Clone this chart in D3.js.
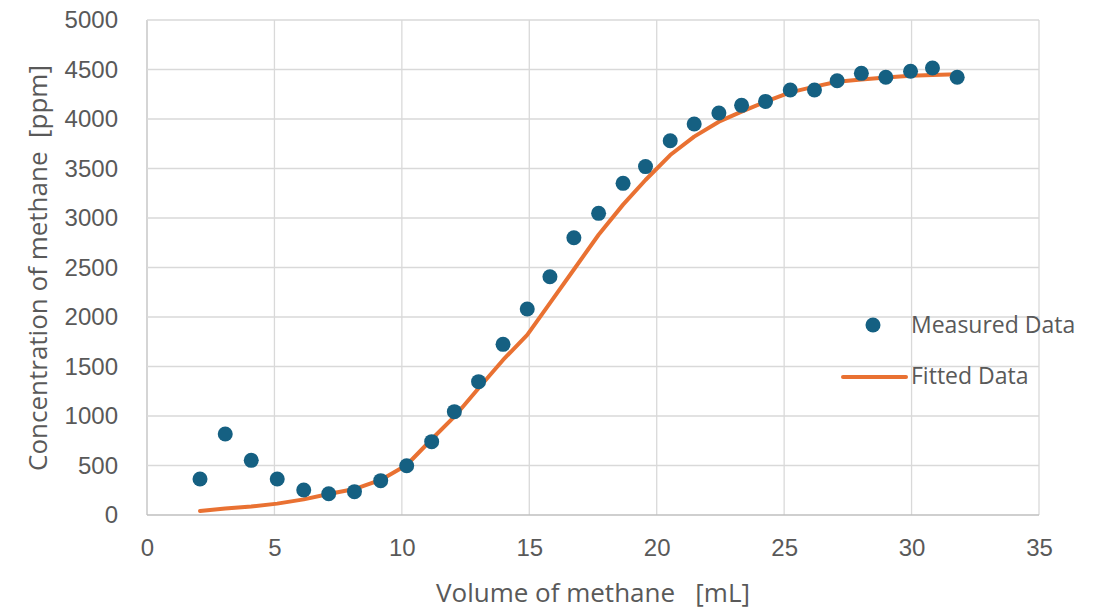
<!DOCTYPE html>
<html>
<head>
<meta charset="utf-8">
<script src="https://cdn.jsdelivr.net/npm/d3@7"></script>
<style>
  body { margin: 0; background: #fff; }
  text { fill: #595959; }
</style>
</head>
<body>
<div id="chart"></div>
<script>
// measured points
const volume = [2.08, 3.07, 4.09, 5.11, 6.15, 7.13, 8.14, 9.17, 10.19, 11.17, 12.06, 13.01, 13.97, 14.92, 15.81, 16.75,
  17.72, 18.68, 19.56, 20.53, 21.47, 22.44, 23.33, 24.27, 25.24, 26.19, 27.08, 28.03, 28.99, 29.96, 30.82, 31.79];
const measured = [364, 818, 552, 364, 253, 215, 236, 347, 498, 741, 1044, 1347, 1724, 2081, 2407, 2801,
  3047, 3350, 3519, 3781, 3949, 4061, 4138, 4178, 4293, 4293, 4387, 4461, 4421, 4482, 4515, 4421];
const fitted = [40, 65, 85, 115, 158, 212, 262, 354, 505, 765, 993, 1280, 1566, 1820, 2140, 2480,
  2831, 3135, 3384, 3636, 3822, 3973, 4074, 4175, 4269, 4327, 4377, 4400, 4418, 4438, 4444, 4451];

const xTicks = d3.range(0, 36, 5);
const yTicks = d3.range(0, 5001, 500);

const width = 1104, height = 611;
const margin = { left: 147, right: 65, top: 20, bottom: 96 };

const svg = d3.select("#chart").append("svg")
    .attr("width", width)
    .attr("height", height);

const x = d3.scaleLinear().domain([0, 35]).range([margin.left, width - margin.right]);
const y = d3.scaleLinear().domain([0, 5000]).range([height - margin.bottom, margin.top]);

// gridlines
svg.append("g")
    .selectAll("line")
    .data(xTicks)
    .join("line")
    .attr("x1", d => x(d)).attr("x2", d => x(d))
    .attr("y1", y(0)).attr("y2", y(5000))
    .attr("stroke", d => d === 0 ? "#bfbfbf" : "#d9d9d9")
    .attr("stroke-width", 1.3);

svg.append("g")
    .selectAll("line")
    .data(yTicks)
    .join("line")
    .attr("x1", x(0)).attr("x2", x(35))
    .attr("y1", d => y(d)).attr("y2", d => y(d))
    .attr("stroke", d => d === 0 ? "#bfbfbf" : "#d9d9d9")
    .attr("stroke-width", 1.3);

// tick labels
const tickFont = "'Liberation Sans', Arial, sans-serif";

const xAxis = svg.append("g")
    .attr("transform", `translate(0,${y(0)})`)
    .call(d3.axisBottom(x).tickValues(xTicks).tickFormat(d3.format("d")).tickSize(0).tickPadding(24));
xAxis.select(".domain").remove();
xAxis.selectAll("text")
    .style("font-family", tickFont)
    .style("font-size", "24px")
    .attr("fill", "#595959");

const yAxis = svg.append("g")
    .attr("transform", `translate(${x(0)},0)`)
    .call(d3.axisLeft(y).tickValues(yTicks).tickFormat(d3.format("d")).tickSize(0).tickPadding(29));
yAxis.select(".domain").remove();
yAxis.selectAll("text")
    .style("font-family", tickFont)
    .style("font-size", "24px")
    .attr("fill", "#595959");

// axis titles
svg.append("text")
    .attr("x", 593)
    .attr("y", 602)
    .attr("text-anchor", "middle")
    .style("font-family", "'Open Sans', sans-serif")
    .style("font-size", "26px")
    .style("white-space", "pre")
    .text("Volume of methane   [mL]");

svg.append("text")
    .attr("transform", "translate(47,268) rotate(-90)")
    .attr("text-anchor", "middle")
    .style("font-family", "'Open Sans', sans-serif")
    .style("font-size", "26px")
    .style("white-space", "pre")
    .text("Concentration of methane  [ppm]");

// fitted line
const pts = volume.map((v, i) => ({ v, m: measured[i], f: fitted[i] }));

svg.append("path")
    .datum(pts)
    .attr("fill", "none")
    .attr("stroke", "#e97132")
    .attr("stroke-width", 4)
    .attr("stroke-linejoin", "round")
    .attr("stroke-linecap", "round")
    .attr("d", d3.line().x(d => x(d.v)).y(d => y(d.f)));

// measured points
svg.append("g")
    .selectAll("circle")
    .data(pts)
    .join("circle")
    .attr("cx", d => x(d.v))
    .attr("cy", d => y(d.m))
    .attr("r", 7.5)
    .attr("fill", "#156082");

// legend
const legend = svg.append("g")
    .style("font-family", "'Open Sans', sans-serif")
    .style("font-size", "23px");

legend.append("circle")
    .attr("cx", 873).attr("cy", 325).attr("r", 7.5)
    .attr("fill", "#156082");
legend.append("text")
    .attr("x", 911).attr("y", 333)
    .text("Measured Data");

legend.append("line")
    .attr("x1", 843).attr("x2", 906)
    .attr("y1", 377).attr("y2", 377)
    .attr("stroke", "#e97132")
    .attr("stroke-width", 4)
    .attr("stroke-linecap", "round");
legend.append("text")
    .attr("x", 911).attr("y", 384)
    .text("Fitted Data");
</script>
</body>
</html>
